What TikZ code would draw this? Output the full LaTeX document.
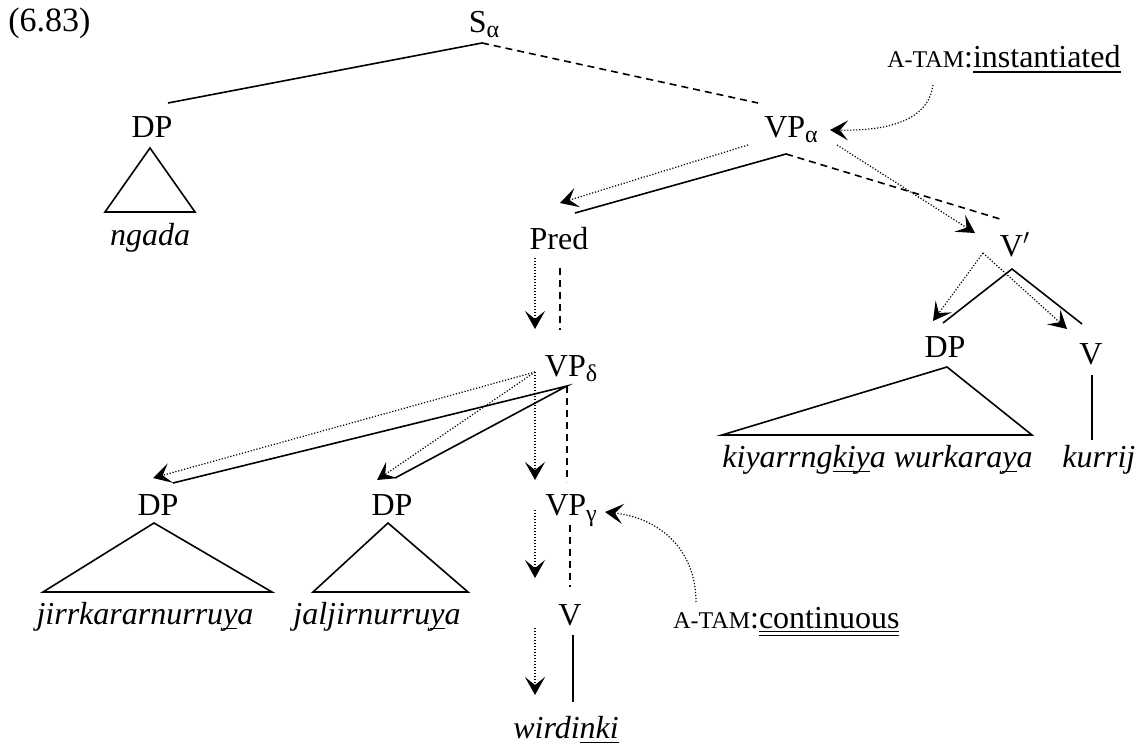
\documentclass[tikz,border=0pt]{standalone}
\usepackage{fontspec}
\setmainfont{Liberation Serif}
\usetikzlibrary{arrows.meta}
\newcommand{\gsub}[1]{\raisebox{-2.5pt}{\fontsize{12}{12}\selectfont #1}}
\newcommand{\smcap}[1]{{\fontsize{12}{12}\selectfont #1}}
\newcommand{\ulx}[1]{\setbox0\hbox{#1}\rlap{\rule[-2.4pt]{\wd0}{0.6pt}}\box0}
\newcommand{\ulthick}[1]{\setbox0\hbox{#1}\rlap{\rule[-2.6pt]{\wd0}{0.9pt}}\box0}
\newcommand{\uldbl}[1]{\setbox0\hbox{#1}\rlap{\rule[-2.2pt]{\wd0}{0.5pt}}\rlap{\rule[-3.9pt]{\wd0}{0.5pt}}\box0}
\tikzset{
  lbl/.style={anchor=base, inner sep=0pt, font=\fontsize{16}{19}\selectfont},
  br/.style={line width=0.8pt},
  dsh/.style={line width=0.8pt, dash pattern=on 3.5pt off 2.5pt},
  dt/.style={line width=0.6pt, dash pattern=on 0.6pt off 0.9pt},
  arr/.style={dt, -{Stealth[length=9pt,width=10pt,inset=4pt]}},
  tri/.style={line width=0.8pt, line join=miter},
}
\begin{document}
\begin{tikzpicture}[x=0.5pt, y=-0.5pt]
\useasboundingbox (0,0) rectangle (1138,747);
% labels
\node[lbl, anchor=base west, font=\fontsize{17}{19}\selectfont] (num) at (8,32) {(6.83)};
\node[lbl] (S) at (484,33) {S\gsub{α}};
\node[lbl] (DPa) at (152,138) {DP};
\node[lbl] (VPa) at (791,138) {VP\gsub{α}};
\node[lbl, anchor=base west] (tamI) at (887,68) {\smcap{A-TAM}:\ulthick{instantiated}};
\node[lbl] (ngada) at (150,246) {\textit{ngada}};
\node[lbl] (Pred) at (559,250) {Pred};
\node[lbl] (Vbar) at (1015,257) {V$'$};
\node[lbl] (DPb) at (945,358) {DP};
\node[lbl] (Vb) at (1091,365) {V};
\node[lbl] (VPd) at (571,377) {VP\gsub{δ}};
\node[lbl, anchor=base west] (kiy) at (722,467) {\textit{kiyarrng\ulx{kiy}a wurkara\ulx{y}a}};
\node[lbl, anchor=base west] (kurrij) at (1062,467) {\textit{kurrij}};
\node[lbl] (DPc) at (158,516) {DP};
\node[lbl] (DPd) at (392,516) {DP};
\node[lbl] (VPg) at (571,516) {VP\gsub{γ}};
\node[lbl] (jirr) at (145,624) {\textit{jirrkararnurru\ulx{y}a}};
\node[lbl] (jal) at (377,624) {\textit{jaljirnurru\ulx{y}a}};
\node[lbl] (Vc) at (570,625) {V};
\node[lbl, anchor=base west] (tamC) at (673,628) {\smcap{A-TAM}:\uldbl{continuous}};
\node[lbl] (wird) at (566,738) {\textit{wirdi\ulx{nki}}};
% coordinates
\coordinate (S-v) at (482,43);
\coordinate (DPa-t) at (168,103);
\coordinate (VPa-t) at (758,103);
\coordinate (VPa-v) at (786,154);
\coordinate (Pred-t) at (575,213);
\coordinate (Vbar-t) at (1000,219);
\coordinate (VPa-dl) at (748,145);
\coordinate (Pred-a) at (560,203);
\coordinate (VPa-dr) at (837,145);
\coordinate (Vbar-a) at (975,233);
\coordinate (tamI-s) at (933,85);
\coordinate (VPa-a) at (830,130);
\coordinate (Pred-dl) at (535,258);
\coordinate (VPd-a) at (535,329);
\coordinate (Pred-ds) at (560,268);
\coordinate (VPd-ds) at (560,330);
\coordinate (Vbar-v) at (1012,269);
\coordinate (DPb-t) at (943,323);
\coordinate (Vb-t) at (1082,324);
\coordinate (Vbar-dt) at (983,253);
\coordinate (DPb-a) at (933,321);
\coordinate (Vb-a) at (1067,329);
\coordinate (Vb-b) at (1092,375);
\coordinate (kurrij-t) at (1092,440);
\coordinate (VPd-v) at (567,386);
\coordinate (VPd-dt) at (535,372);
\coordinate (DPc-t) at (173,483);
\coordinate (DPd-t) at (395,478);
\coordinate (DPc-a) at (153,478);
\coordinate (DPd-a) at (377,480);
\coordinate (VPg-a) at (535,480);
\coordinate (VPg-ds) at (567,482);
\coordinate (VPg-dt) at (535,510);
\coordinate (Vc-a) at (535,578);
\coordinate (VPg-v) at (570,525);
\coordinate (Vc-ds) at (570,587);
\coordinate (Vc-b) at (573,635);
\coordinate (wird-t) at (573,702);
\coordinate (Vc-dt) at (535,628);
\coordinate (wird-a) at (535,695);
\coordinate (tamC-s) at (696,602);
\coordinate (VPg-a2) at (605,512);
% branches
\draw[br] (S-v) -- (DPa-t);
\draw[dsh] (S-v) -- (VPa-t);
\draw[tri] (150,148) -- (105,212) -- (195,212) -- cycle;
\draw[br] (VPa-v) -- (Pred-t);
\draw[dsh] (VPa-v) -- (Vbar-t);
\draw[arr] (VPa-dl) -- (Pred-a);
\draw[arr] (VPa-dr) -- (Vbar-a);
\draw[arr] (tamI-s) .. controls (928,122) and (885,131) .. (VPa-a);
\draw[arr] (Pred-dl) -- (VPd-a);
\draw[dsh] (Pred-ds) -- (VPd-ds);
\draw[br] (DPb-t) -- (Vbar-v) -- (Vb-t);
\draw[arr] (Vbar-dt) -- (DPb-a);
\draw[arr] (Vbar-dt) -- (Vb-a);
\draw[tri] (947,367) -- (722,435) -- (1032,435) -- cycle;
\draw[br] (Vb-b) -- (kurrij-t);
\draw[br] (DPc-t) -- (VPd-v) -- (DPd-t);
\draw[arr] (VPd-dt) -- (DPc-a);
\draw[arr] (VPd-dt) -- (DPd-a);
\draw[arr] (VPd-dt) -- (VPg-a);
\draw[dsh] (VPd-v) -- (VPg-ds);
\draw[tri] (154,523) -- (43,592) -- (272,592) -- cycle;
\draw[tri] (388,523) -- (313,592) -- (468,592) -- cycle;
\draw[arr] (VPg-dt) -- (Vc-a);
\draw[dsh] (VPg-v) -- (Vc-ds);
\draw[br] (Vc-b) -- (wird-t);
\draw[arr] (Vc-dt) -- (wird-a);
\draw[arr] (tamC-s) .. controls (696,550) and (660,518) .. (VPg-a2);
\end{tikzpicture}
\end{document}
